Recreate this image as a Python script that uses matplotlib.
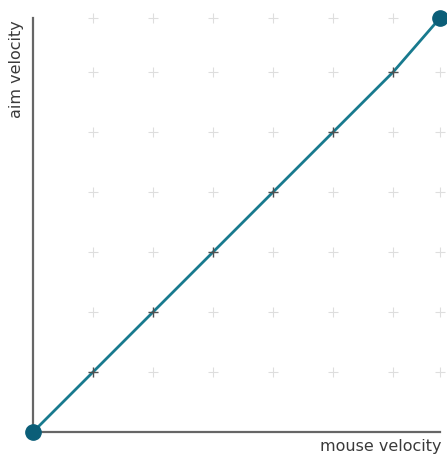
import matplotlib
matplotlib.use("Agg")
import matplotlib.pyplot as plt

# data
mouse_velocity = [0, 1, 2, 3, 4, 5, 6, 6.78]
aim_velocity = [0, 1, 2, 3, 4, 5, 6, 6.9]
grid_x = [1, 2, 3, 4, 5, 6, 6.78]
grid_y = [1, 2, 3, 4, 5, 6, 6.9]
x_label = "mouse velocity"
y_label = "aim velocity"

W, H = 447, 454
fig = plt.figure(figsize=(W / 100, H / 100), dpi=100)
left, right, top, bottom = 33, 440, 18, 432
ax = fig.add_axes([left / W, 1 - bottom / H, (right - left) / W, (bottom - top) / H])
ax.set_xlim(0, 6.78)
ax.set_ylim(0, 6.9)

# grid crosses
gx = [x for x in grid_x for _ in grid_y]
gy = [y for _ in grid_x for y in grid_y]
ax.plot(gx, gy, linestyle="none", marker="+", markersize=7.5, markeredgewidth=0.8,
        color="#dedede", clip_on=False, zorder=1)

# line
ax.plot(mouse_velocity, aim_velocity, color="#187a8e", linewidth=2.0, clip_on=False, zorder=3,
        solid_capstyle="round")
# dark markers at interior points
ax.plot(mouse_velocity[1:-1], aim_velocity[1:-1], linestyle="none", marker="+", markersize=7,
        markeredgewidth=1.0, color="#505050", clip_on=False, zorder=4)
# end points
ax.plot([mouse_velocity[0], mouse_velocity[-1]], [aim_velocity[0], aim_velocity[-1]],
        linestyle="none", marker="o", markersize=11, color="#0b5e78", clip_on=False, zorder=5)

for s in ["top", "right"]:
    ax.spines[s].set_visible(False)
for s in ["left", "bottom"]:
    ax.spines[s].set_color("#666666")
    ax.spines[s].set_linewidth(1.6)
    ax.spines[s].set_zorder(2)
ax.set_xticks([])
ax.set_yticks([])
ax.patch.set_alpha(0)

fig.text(441 / W, 1 - 446 / H, x_label, ha="right", va="center", fontsize=11.5,
         family="DejaVu Sans", color="#3a3a3a")
fig.text(17 / W, 1 - 20 / H, y_label, ha="center", va="top", rotation=90, fontsize=11.5,
         family="DejaVu Sans", color="#3a3a3a")

fig.savefig("out.png", dpi=100)
